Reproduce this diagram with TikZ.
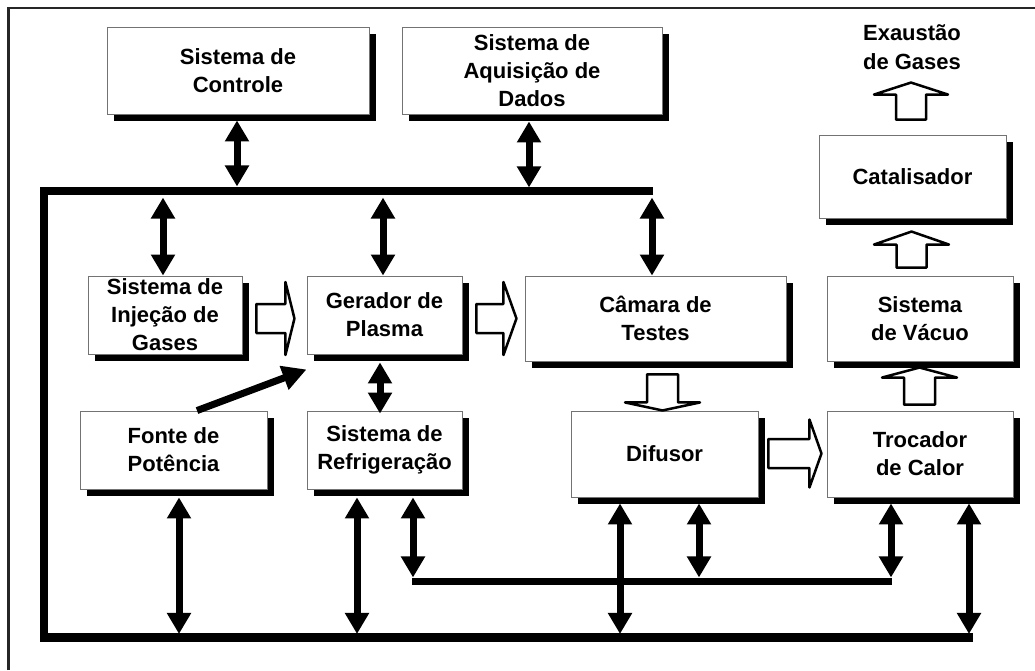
\documentclass[tikz,border=0pt]{standalone}
\usepackage{fontspec}
\setmainfont{Liberation Sans}
\usetikzlibrary{arrows.meta,shadows,calc}

% hollow block arrow: origin, rotation, stem length, stem half width, head half width, head length
\newcommand\blockarrow[6]{%
  \draw[hollow, shift={(#1)}, rotate=#2]
    (0,-#4) -- (#3,-#4) -- (#3,-#5) -- ({#3+#6},0) -- (#3,#5) -- (#3,#4) -- (0,#4) -- cycle;}

\begin{document}
\begin{tikzpicture}[x=1pt,y=-1pt,
  box/.style={draw=black!55, line width=0.9pt, fill=white, align=center,
    font=\fontsize{22}{28}\selectfont\bfseries, inner sep=0pt,
    drop shadow={shadow xshift=7pt, shadow yshift=-7pt, fill=black, opacity=1}},
  dbl/.style={line width=7pt,
    {Triangle[width=23pt,length=21pt]}-{Triangle[width=23pt,length=21pt]}},
  one/.style={line width=7pt, -{Triangle[width=24pt,length=24pt]}},
  bus/.style={line width=8.5pt, line join=miter},
  hollow/.style={draw=black, line width=2.5pt, fill=white, line join=round},
  lbl/.style={align=center, font=\fontsize{22}{29}\selectfont\bfseries, inner sep=0pt}]
\useasboundingbox (0,0) rectangle (1035,670);

% outer frame (top and left edges)
\draw[line width=2.5pt, black!85] (8.5,670) -- (8.5,8) -- (1035,8);

% boxes
\node[box, minimum width=262pt, minimum height=87pt] (ctrl) at (238,70.5) {Sistema de\\Controle};
\node[box, minimum width=260pt, minimum height=87pt] (aqui) at (532,70.5) {Sistema de\\Aquisição de\\Dados};
\node[box, minimum width=187pt, minimum height=83pt] (cat) at (912.5,176.5) {Catalisador};
\node[box, minimum width=154pt, minimum height=78pt] (inj) at (165,315) {Sistema de\\Injeção de\\Gases};
\node[box, minimum width=155pt, minimum height=78pt] (ger) at (384.5,315) {Gerador de\\Plasma};
\node[box, minimum width=261pt, minimum height=85pt] (cam) at (655.5,318.5) {Câmara de\\Testes};
\node[box, minimum width=186pt, minimum height=85pt] (vac) at (920,318.5) {Sistema\\de Vácuo};
\node[box, minimum width=187pt, minimum height=78pt] (fonte) at (173.5,450) {Fonte de\\Potência};
\node[box, minimum width=155pt, minimum height=78pt] (refr) at (384.5,450) {Sistema de\\Refrigeração};
\node[box, minimum width=187pt, minimum height=86pt] (dif) at (664.5,454) {Difusor};
\node[box, minimum width=186pt, minimum height=86pt] (troc) at (920,454) {Trocador\\de Calor};
\node[lbl] (exh) at (912,47.5) {Exaustão\\de Gases};

% signal buses
\coordinate (busA) at (653,191);
\coordinate (busB) at (44,191);
\coordinate (busC) at (44,637.5);
\coordinate (busD) at (973,637.5);
\coordinate (auxA) at (412,581.5);
\coordinate (auxB) at (892,581.5);
\draw[bus] (busA) -- (busB) -- (busC) -- (busD);
\draw[line width=7.5pt] (auxA) -- (auxB);

% connections to the upper bus
\draw[dbl] ($(ctrl.south)+(-1,6)$) -- ($(ctrl.south)+(-1,72)$);
\draw[dbl] ($(aqui.south)+(-3,7)$) -- ($(aqui.south)+(-3,73)$);
\draw[dbl] ($(inj.north)+(-2,-78)$) -- ($(inj.north)+(-2,0)$);
\draw[dbl] ($(ger.north)+(-1.5,-78)$) -- ($(ger.north)+(-1.5,0)$);
\draw[dbl] ($(cam.north)+(-3.5,-78)$) -- ($(cam.north)+(-3.5,0)$);

% plasma generator links
\draw[dbl] ($(ger.south)+(-4.5,8)$) -- ($(refr.north)+(-4.5,3)$);
\draw[one] ($(fonte.north)+(23.5,0)$) -- ($(ger.south west)+(0,15)$);

% connections to the lower buses
\draw[dbl] ($(fonte.south)+(5.5,8)$) -- ($(fonte.south)+(5.5,144.5)$);
\draw[dbl] ($(refr.south)+(-27.5,8)$) -- ($(refr.south)+(-27.5,144.5)$);
\draw[dbl] ($(refr.south)+(28.5,8)$) -- ($(refr.south)+(28.5,88)$);
\draw[dbl] ($(dif.south)+(-44.5,6)$) -- ($(dif.south)+(-44.5,136.5)$);
\draw[dbl] ($(dif.south)+(34.5,6)$) -- ($(dif.south)+(34.5,80)$);
\draw[dbl] ($(troc.south)+(-29,6)$) -- ($(troc.south)+(-29,80)$);
\draw[dbl] ($(troc.south)+(49,6)$) -- ($(troc.south)+(49,136.5)$);

% gas flow
\coordinate (f1) at ($(inj.east)+(14,3.5)$);
\coordinate (f2) at ($(ger.east)+(14,3.5)$);
\coordinate (f3) at ($(cam.south)+(7,13)$);
\coordinate (f4) at ($(dif.east)+(10,-0.5)$);
\coordinate (f5) at ($(troc.north)+(-0.5,-6)$);
\coordinate (f6) at ($(vac.north)+(-8.5,-8)$);
\coordinate (f7) at ($(cat.north)+(-1.5,-15)$);
\blockarrow{f1}{0}{29}{14.5}{36.5}{9}
\blockarrow{f2}{0}{27}{14.5}{36.5}{13}
\blockarrow{f3}{-90}{28}{15.5}{37.5}{8}
\blockarrow{f4}{0}{41}{14.5}{34}{12}
\blockarrow{f5}{90}{27}{15.5}{37.5}{10}
\blockarrow{f6}{90}{23}{15}{37.5}{13}
\blockarrow{f7}{90}{25}{15}{37}{12}
\end{tikzpicture}
\end{document}
